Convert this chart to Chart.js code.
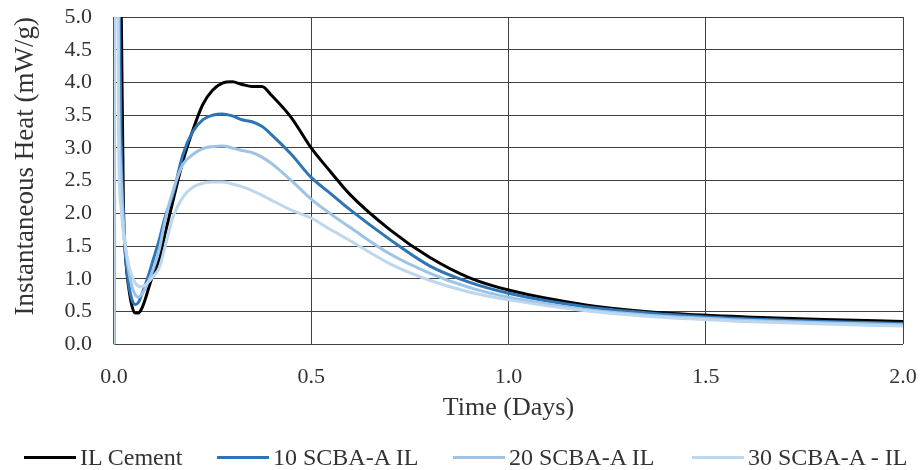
<!DOCTYPE html>
<html>
<head>
<meta charset="utf-8">
<script src="https://cdn.jsdelivr.net/npm/chart.js@4.4.1/dist/chart.umd.min.js"></script>
<style>
  html, body { margin: 0; padding: 0; background: #fff; }
  #wrap { position: relative; width: 922px; height: 470px; }
  #legend { position: absolute; left: 0; top: 445px; width: 922px; height: 24px;
    font-family: 'Liberation Serif', 'Times New Roman', serif; font-size: 24px; color: #333; }
  .item { position: absolute; top: 0; display: flex; align-items: center; height: 24px; white-space: nowrap; }
  .item i { display: inline-block; width: 52px; height: 3px; margin-right: 4px; }
</style>
</head>
<body>
<div id="wrap"><canvas id="heatChart"></canvas><div id="legend"></div></div>
<script>
// time in days, shared by all series
const days = [0, 0.004, 0.012, 0.018, 0.024, 0.03, 0.038, 0.046, 0.054, 0.062, 0.07, 0.08, 0.09, 0.1,
  0.115, 0.13, 0.15, 0.175, 0.2, 0.225, 0.25, 0.275, 0.3, 0.325, 0.35, 0.375, 0.4, 0.45, 0.5, 0.55,
  0.6, 0.7, 0.8, 0.9, 1.0, 1.2, 1.4, 1.6, 1.8, 2.0];

// instantaneous heat (mW/g)
const ilCement = [0, 12, 8, 5.5, 2.2, 1.3, 0.85, 0.58, 0.48, 0.48, 0.54, 0.7, 0.9, 1.07,
  1.3, 1.7, 2.2, 2.8, 3.27, 3.66, 3.88, 3.99, 4.01, 3.97, 3.94, 3.94, 3.8, 3.46, 3.0, 2.63,
  2.28, 1.75, 1.33, 1.02, 0.83, 0.6, 0.48, 0.42, 0.38, 0.35];
const scba10 = [0, 12, 6, 3.2, 1.9, 1.3, 0.9, 0.68, 0.61, 0.64, 0.75, 0.92, 1.1, 1.3,
  1.6, 1.95, 2.3, 2.9, 3.25, 3.43, 3.5, 3.52, 3.49, 3.43, 3.4, 3.33, 3.2, 2.9, 2.55, 2.3,
  2.05, 1.6, 1.2, 0.95, 0.78, 0.57, 0.46, 0.39, 0.35, 0.32];
const scba20 = [0, 12, 4, 2.6, 1.9, 1.45, 1.1, 0.88, 0.76, 0.72, 0.76, 0.86, 1.0, 1.15,
  1.45, 1.9, 2.35, 2.75, 2.9, 2.99, 3.02, 3.03, 3.0, 2.96, 2.93, 2.86, 2.76, 2.5, 2.22, 1.99,
  1.78, 1.38, 1.09, 0.87, 0.72, 0.53, 0.43, 0.37, 0.33, 0.3];
const scba30 = [0, 12, 3.0, 2.1, 1.7, 1.45, 1.2, 1.04, 0.94, 0.89, 0.88, 0.91, 0.97, 1.04,
  1.17, 1.5, 1.95, 2.25, 2.4, 2.46, 2.48, 2.48, 2.45, 2.41, 2.35, 2.28, 2.2, 2.05, 1.93, 1.75,
  1.58, 1.23, 0.98, 0.8, 0.68, 0.51, 0.41, 0.35, 0.31, 0.28];

const seriesNames = ['IL Cement', '10 SCBA-A IL', '20 SCBA-A IL', '30 SCBA-A - IL'];
const seriesColors = ['#000000', '#2e75b6', '#9dc3e6', '#bdd7ee'];
const xTicks = [0, 0.5, 1.0, 1.5, 2.0];

const serif = 'Liberation Serif, Times New Roman, serif';
const textColor = '#333';
const gridColor = '#404040';
const toPts = (vals) => vals.map((v, i) => ({ x: days[i], y: v }));

const datasets = [ilCement, scba10, scba20, scba30].map((vals, i) => ({
  label: seriesNames[i],
  data: toPts(vals),
  borderColor: seriesColors[i],
  backgroundColor: seriesColors[i],
  borderWidth: 3,
  pointRadius: 0,
  cubicInterpolationMode: 'monotone',
  order: 4 - i
}));

// invisible tick marks keep the label gap without padding the plot corners
new Chart(document.getElementById('heatChart'), {
  type: 'line',
  data: { datasets },
  options: {
    responsive: true,
    maintainAspectRatio: false,
    animation: false,
    layout: { padding: { left: 10, right: 19, top: 17, bottom: 46 } },
    plugins: {
      tooltip: { enabled: false },
      legend: { display: false }
    },
    scales: {
      x: {
        type: 'linear',
        min: 0,
        max: 2,
        afterBuildTicks: (axis) => { axis.ticks = xTicks.map(v => ({ value: v })); },
        grid: { color: gridColor, lineWidth: 1, tickLength: 20, tickColor: 'rgba(0,0,0,0)' },
        border: { display: false },
        ticks: {
          color: textColor,
          padding: 0,
          font: { family: serif, size: 22 },
          callback: (v) => Number(v).toFixed(1)
        },
        title: {
          display: true,
          text: 'Time (Days)',
          color: textColor,
          font: { family: serif, size: 26 },
          padding: { top: 2, bottom: 0 }
        }
      },
      y: {
        min: 0,
        max: 5,
        ticks: {
          stepSize: 0.5,
          autoSkip: false,
          color: textColor,
          padding: 0,
          font: { family: serif, size: 22 },
          callback: (v) => Number(v).toFixed(1)
        },
        grid: { color: gridColor, lineWidth: 1, tickLength: 22, tickColor: 'rgba(0,0,0,0)' },
        border: { display: false },
        title: {
          display: true,
          align: 'end',
          text: 'Instantaneous Heat (mW/g)',
          color: textColor,
          font: { family: serif, size: 27 },
          padding: { top: 0, bottom: 22 }
        }
      }
    }
  }
});

// legend built from the same names and colours
const legendLeft = [24, 217, 453, 692];
const legendEl = document.getElementById('legend');
seriesNames.forEach((name, i) => {
  const item = document.createElement('div');
  item.className = 'item';
  item.style.left = legendLeft[i] + 'px';
  item.innerHTML = `<i style="background:${seriesColors[i]}"></i><span>${name}</span>`;
  legendEl.appendChild(item);
});
</script>
</body>
</html>
